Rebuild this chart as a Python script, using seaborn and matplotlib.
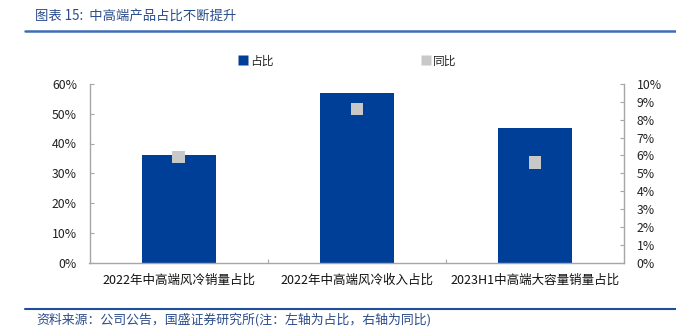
import matplotlib
matplotlib.use("Agg")
import matplotlib.pyplot as plt
from matplotlib.lines import Line2D
from matplotlib.ticker import PercentFormatter, FixedLocator
import seaborn as sns
import pandas as pd

# Data
categories = ["2022年中高端风冷销量占比", "2022年中高端风冷收入占比", "2023H1中高端大容量销量占比"]
share = [0.363, 0.57, 0.452]      # left axis: 占比
yoy = [0.059, 0.086, 0.056]       # right axis: 同比

title_text = "图表 15:  中高端产品占比不断提升"
source_text = "资料来源：公司公告，国盛证券研究所(注：左轴为占比，右轴为同比)"

BAR_BLUE = "#003F98"
MARK_GRAY = "#C8C8C8"
AXIS_GRAY = "#A6A6A6"
TEXT_BLUE = "#2B4C8C"

sns.set_theme(style="white")
plt.rcParams["font.family"] = ["Noto Sans CJK SC", "DejaVu Sans"]
plt.rcParams["axes.unicode_minus"] = False

df = pd.DataFrame({"类别": categories, "占比": share, "同比": yoy})

fig = plt.figure(figsize=(6.76, 3.34), dpi=100)
W, H = 676, 334
ax = fig.add_axes([89.5 / W, 1 - 262.5 / H, (624 - 89.5) / W, (262.5 - 84) / H])

sns.barplot(data=df, x="类别", y="占比", color=BAR_BLUE, saturation=1,
            width=0.416, ax=ax, linewidth=0)
ax.set_xlim(-0.5, 2.5)
ax.set_ylim(0, 0.6)
ax.yaxis.set_major_locator(FixedLocator([i / 10 for i in range(7)]))
ax.yaxis.set_major_formatter(PercentFormatter(1.0, decimals=0))
ax.set_xlabel("")
ax.set_ylabel("")

ax2 = ax.twinx()
sns.scatterplot(data=df, x="类别", y="同比", marker="s", s=78, color=MARK_GRAY,
                edgecolor="none", ax=ax2, zorder=5, legend=False)
ax2.set_xlim(-0.5, 2.5)
ax2.set_ylim(0, 0.10)
ax2.yaxis.set_major_locator(FixedLocator([i / 100 for i in range(11)]))
ax2.yaxis.set_major_formatter(PercentFormatter(1.0, decimals=0))
ax2.set_ylabel("")
ax2.set_xlabel("")

for a in (ax, ax2):
    a.spines["top"].set_visible(False)
    for s in ("left", "right", "bottom"):
        a.spines[s].set_color(AXIS_GRAY)
        a.spines[s].set_linewidth(1.0)
    a.grid(False)

ax.spines["right"].set_visible(False)
ax2.spines["left"].set_visible(False)
ax2.spines["bottom"].set_visible(False)

ax.tick_params(axis="y", direction="in", length=3, width=0.8, color=AXIS_GRAY,
               labelsize=8.8, pad=9, labelcolor="#222222", left=True)
ax2.tick_params(axis="y", direction="in", length=3, width=0.8, color=AXIS_GRAY,
                labelsize=8.8, pad=9, labelcolor="#222222", right=True)

# category labels centred, boundary ticks between categories
ax.set_xticks(range(len(categories)))
ax.set_xticklabels(categories)
ax.tick_params(axis="x", which="major", length=0, labelsize=9, pad=8, labelcolor="#111111")
ax.set_xticks([0.5, 1.5], minor=True)
ax.tick_params(axis="x", which="minor", direction="in", length=3, width=0.8,
               color=AXIS_GRAY, bottom=True)

# legend above the plot
handles = [
    Line2D([], [], marker="s", linestyle="none", markersize=6.5,
           markerfacecolor=BAR_BLUE, markeredgecolor="none", label="占比"),
    Line2D([], [], marker="s", linestyle="none", markersize=6.5,
           markerfacecolor=MARK_GRAY, markeredgecolor="none", label="同比"),
]
fig.legend(handles=handles, loc="center", bbox_to_anchor=(347 / W, 1 - 61 / H),
           ncol=2, frameon=False, fontsize=8.5, handlelength=0.8,
           handletextpad=0.2, columnspacing=12.5)

# title, source note and rules
fig.text(35 / W, 1 - 16 / H, title_text, fontsize=9.6, color=TEXT_BLUE,
         ha="left", va="center")
fig.add_artist(Line2D([25 / W, 1.0], [1 - 31 / H, 1 - 31 / H], color="#3E6DB5",
                      linewidth=1.8, transform=fig.transFigure))
fig.add_artist(Line2D([25 / W, 1.0], [1 - 309 / H, 1 - 309 / H], color="#1F4E9A",
                      linewidth=1.5, transform=fig.transFigure))
fig.text(36 / W, 1 - 320 / H, source_text, fontsize=9.3, color=TEXT_BLUE,
         ha="left", va="center")

fig.savefig("out.png", dpi=100)
